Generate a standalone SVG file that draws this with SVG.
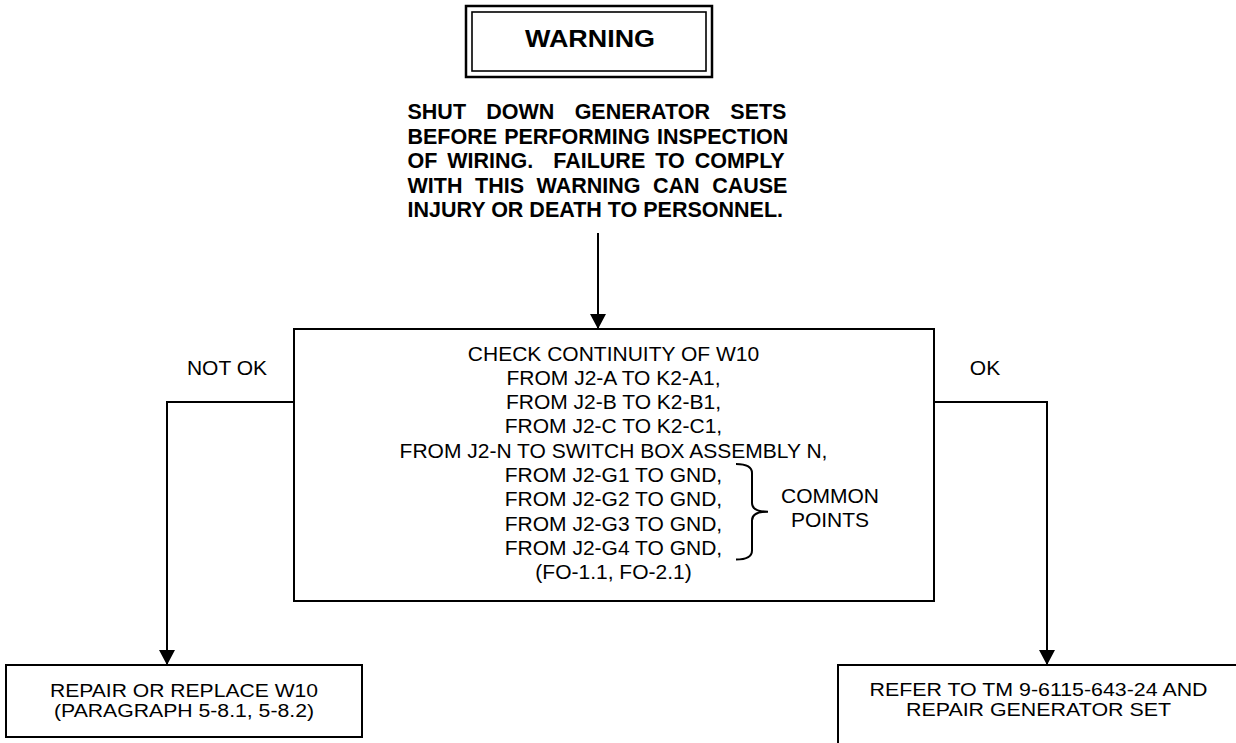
<svg xmlns="http://www.w3.org/2000/svg" width="1236" height="743" viewBox="0 0 1236 743">
<style>
  .box { fill: #fff; stroke: #000; stroke-width: 2; }
  .line { fill: none; stroke: #000; stroke-width: 2; }
  .t { font-family: "Liberation Sans", Arial, sans-serif; font-size: 21px; fill: #000; text-anchor: middle; }
  .tb { font-family: "Liberation Sans", Arial, sans-serif; font-weight: bold; font-size: 21.5px; fill: #000; white-space: pre; }
  .ts { font-family: "Liberation Sans", Arial, sans-serif; font-size: 18px; fill: #000; text-anchor: middle; }
</style>
<defs>
  <marker id="arr" viewBox="0 0 15 16" refX="15" refY="8" markerWidth="15" markerHeight="16" markerUnits="userSpaceOnUse" orient="auto">
    <path d="M0,0 L15,8 L0,16 z" fill="#000"/>
  </marker>
</defs>
<rect width="1236" height="743" fill="#fff"/>

<g id="warning">
  <rect x="466" y="6" width="246" height="71" fill="#fff" stroke="#000" stroke-width="2.5"/>
  <rect x="472" y="12" width="234" height="59" fill="none" stroke="#000" stroke-width="1.6"/>
  <text x="590" y="46.5" font-family="Liberation Sans, Arial, sans-serif" font-weight="bold" font-size="24" text-anchor="middle" textLength="130" lengthAdjust="spacingAndGlyphs">WARNING</text>
</g>

<g id="warning-text">
  <text class="tb" x="407.5" y="119" word-spacing="14.3">SHUT DOWN GENERATOR SETS</text>
  <text class="tb" x="407.5" y="143.5" word-spacing="1.1">BEFORE PERFORMING INSPECTION</text>
  <text class="tb" x="407.5" y="168" word-spacing="4">OF WIRING.  FAILURE TO COMPLY</text>
  <text class="tb" x="407.5" y="192.5" word-spacing="6.6">WITH THIS WARNING CAN CAUSE</text>
  <text class="tb" x="407.5" y="216.8">INJURY OR DEATH TO PERSONNEL.</text>
</g>

<g id="check">
  <rect class="box" x="294" y="329" width="640" height="272"/>
  <text class="t" x="613.5" y="360.5">CHECK CONTINUITY OF W10</text>
  <text class="t" x="613.5" y="384.8">FROM J2-A TO K2-A1,</text>
  <text class="t" x="613.5" y="409.1">FROM J2-B TO K2-B1,</text>
  <text class="t" x="613.5" y="433.4">FROM J2-C TO K2-C1,</text>
  <text class="t" x="613.5" y="457.7">FROM J2-N TO SWITCH BOX ASSEMBLY N,</text>
  <text class="t" x="613.5" y="482">FROM J2-G1 TO GND,</text>
  <text class="t" x="613.5" y="506.3">FROM J2-G2 TO GND,</text>
  <text class="t" x="613.5" y="530.6">FROM J2-G3 TO GND,</text>
  <text class="t" x="613.5" y="554.9">FROM J2-G4 TO GND,</text>
  <text class="t" x="613.5" y="579.2">(FO-1.1, FO-2.1)</text>
  <path class="line" d="M736,464 Q752,464 752,473 L752,503 Q752,511.7 768,511.7 Q752,511.7 752,520.5 L752,550.5 Q752,559.5 736,559.5"/>
  <text class="t" x="830" y="503.3">COMMON</text>
  <text class="t" x="830" y="526.7">POINTS</text>
</g>

<g id="repair">
  <rect class="box" x="6" y="665" width="356" height="72"/>
  <text class="ts" x="184" y="697" textLength="268" lengthAdjust="spacingAndGlyphs">REPAIR OR REPLACE W10</text>
  <text class="ts" x="184" y="716.5" textLength="260" lengthAdjust="spacingAndGlyphs">(PARAGRAPH 5-8.1, 5-8.2)</text>
</g>

<g id="refer">
  <rect class="box" x="838" y="665" width="420" height="100"/>
  <text class="ts" x="1038.5" y="696" textLength="338" lengthAdjust="spacingAndGlyphs">REFER TO TM 9-6115-643-24 AND</text>
  <text class="ts" x="1038.5" y="716" textLength="265" lengthAdjust="spacingAndGlyphs">REPAIR GENERATOR SET</text>
</g>

<g id="connectors">
  <path class="line" d="M598,233 V329" marker-end="url(#arr)"/>
  <path class="line" d="M294,402 H167 V665" marker-end="url(#arr)"/>
  <path class="line" d="M934,402 H1047 V665" marker-end="url(#arr)"/>
  <text class="t" x="227" y="375">NOT OK</text>
  <text class="t" x="985" y="375">OK</text>
</g>
</svg>
